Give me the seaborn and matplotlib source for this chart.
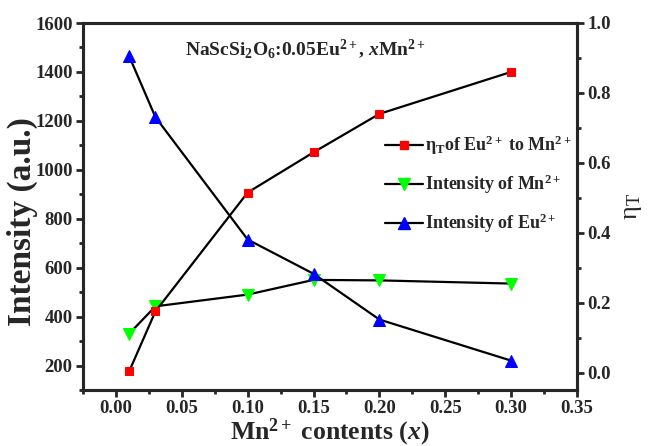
import matplotlib
matplotlib.use("Agg")
import matplotlib.pyplot as plt
from matplotlib.ticker import MultipleLocator
from matplotlib.lines import Line2D
import seaborn as sns
import pandas as pd

# Mn2+ doping content x
mn_content = [0.01, 0.03, 0.10, 0.15, 0.20, 0.30]
# Emission intensities (a.u.)
intensity_eu = [1465, 1215, 715, 575, 388, 220]
intensity_mn = [330, 442, 490, 550, 548, 535]
# Energy transfer efficiency Eu2+ -> Mn2+
eta_t = [0.003, 0.175, 0.515, 0.63, 0.74, 0.86]

df = pd.DataFrame({"x": mn_content, "eu": intensity_eu,
                   "mn": intensity_mn, "eta": eta_t})

sns.set_style("ticks")
plt.rcParams["font.family"] = ["Liberation Serif", "DejaVu Serif"]
plt.rcParams["font.weight"] = "bold"
plt.rcParams["mathtext.fontset"] = "custom"
plt.rcParams["mathtext.rm"] = "Liberation Serif:bold"
plt.rcParams["mathtext.bf"] = "Liberation Serif:bold"
plt.rcParams["mathtext.it"] = "Liberation Serif:italic:bold"

fig = plt.figure(figsize=(6.51, 4.46), dpi=100)
ax = fig.add_axes([83 / 651, 56 / 446, 494 / 651, 367 / 446])
ax2 = ax.twinx()

line_kw = dict(color="black", linewidth=1.6)
sns.lineplot(data=df, x="x", y="eta", ax=ax2, marker="s", markersize=6,
             markerfacecolor="#ff0000", markeredgecolor="#ff0000", **line_kw)
sns.lineplot(data=df, x="x", y="mn", ax=ax, marker="v", markersize=8,
             markerfacecolor="#00ff00", markeredgecolor="#00ff00", **line_kw)
sns.lineplot(data=df, x="x", y="eu", ax=ax, marker="^", markersize=8,
             markerfacecolor="#0000ff", markeredgecolor="#0000ff", **line_kw)

ax.set_xlim(-0.025, 0.35)
ax.set_ylim(100, 1600)
ax2.set_ylim(-0.05, 1.0)

ax.xaxis.set_major_locator(MultipleLocator(0.05))
ax.xaxis.set_minor_locator(MultipleLocator(0.025))
ax.set_yticks([200, 400, 600, 800, 1000, 1200, 1400, 1600])
ax.yaxis.set_minor_locator(MultipleLocator(100))
ax2.yaxis.set_major_locator(MultipleLocator(0.2))
ax2.yaxis.set_minor_locator(MultipleLocator(0.1))
ax.xaxis.set_major_formatter(plt.FuncFormatter(lambda v, p: f"{v:.2f}"))
ax2.yaxis.set_major_formatter(plt.FuncFormatter(lambda v, p: f"{v:.1f}"))

for a in (ax, ax2):
    for s in a.spines.values():
        s.set_linewidth(2.2)
    a.tick_params(which="major", direction="out", length=5, width=2,
                  labelsize=13.5, pad=2.5)
    a.tick_params(which="minor", direction="out", length=3, width=2)
    for lab in a.get_xticklabels() + a.get_yticklabels():
        lab.set_fontweight("bold")

ax.set_xlabel(r"Mn$^{2+}$ contents ($x$)", fontsize=18.5, fontweight="bold",
              labelpad=-0.5)
ax.set_ylabel("Intensity (a.u.)", fontsize=24, fontweight="bold")
ax.yaxis.set_label_coords(-0.091, 0.458)
ax2.set_ylabel(r"η$_{\mathregular{T}}$", fontsize=19, fontweight="normal",
               labelpad=8)

ax.text(0.206, 0.962, r"NaScSi$_2$O$_6$:0.05Eu$^{2+}$, $x$Mn$^{2+}$",
        transform=ax.transAxes, ha="left", va="top", fontsize=14,
        fontweight="bold")

handles = [
    Line2D([], [], color="black", linewidth=1.6, marker="s", markersize=6,
           markerfacecolor="#ff0000", markeredgecolor="#ff0000"),
    Line2D([], [], color="black", linewidth=1.6, marker="v", markersize=8,
           markerfacecolor="#00ff00", markeredgecolor="#00ff00"),
    Line2D([], [], color="black", linewidth=1.6, marker="^", markersize=8,
           markerfacecolor="#0000ff", markeredgecolor="#0000ff"),
]
labels = [r"η$_{\mathregular{T}}$of Eu$^{2+}$ to Mn$^{2+}$",
          r"Intensity of Mn$^{2+}$", r"Intensity of Eu$^{2+}$"]
ax2.legend(handles, labels, loc="upper left", bbox_to_anchor=(0.585, 0.732),
           frameon=False, handlelength=2.1, handletextpad=0.15,
           labelspacing=0.85, borderpad=0.2,
           prop={"weight": "bold", "size": 13})

fig.savefig("out.png", dpi=100)
